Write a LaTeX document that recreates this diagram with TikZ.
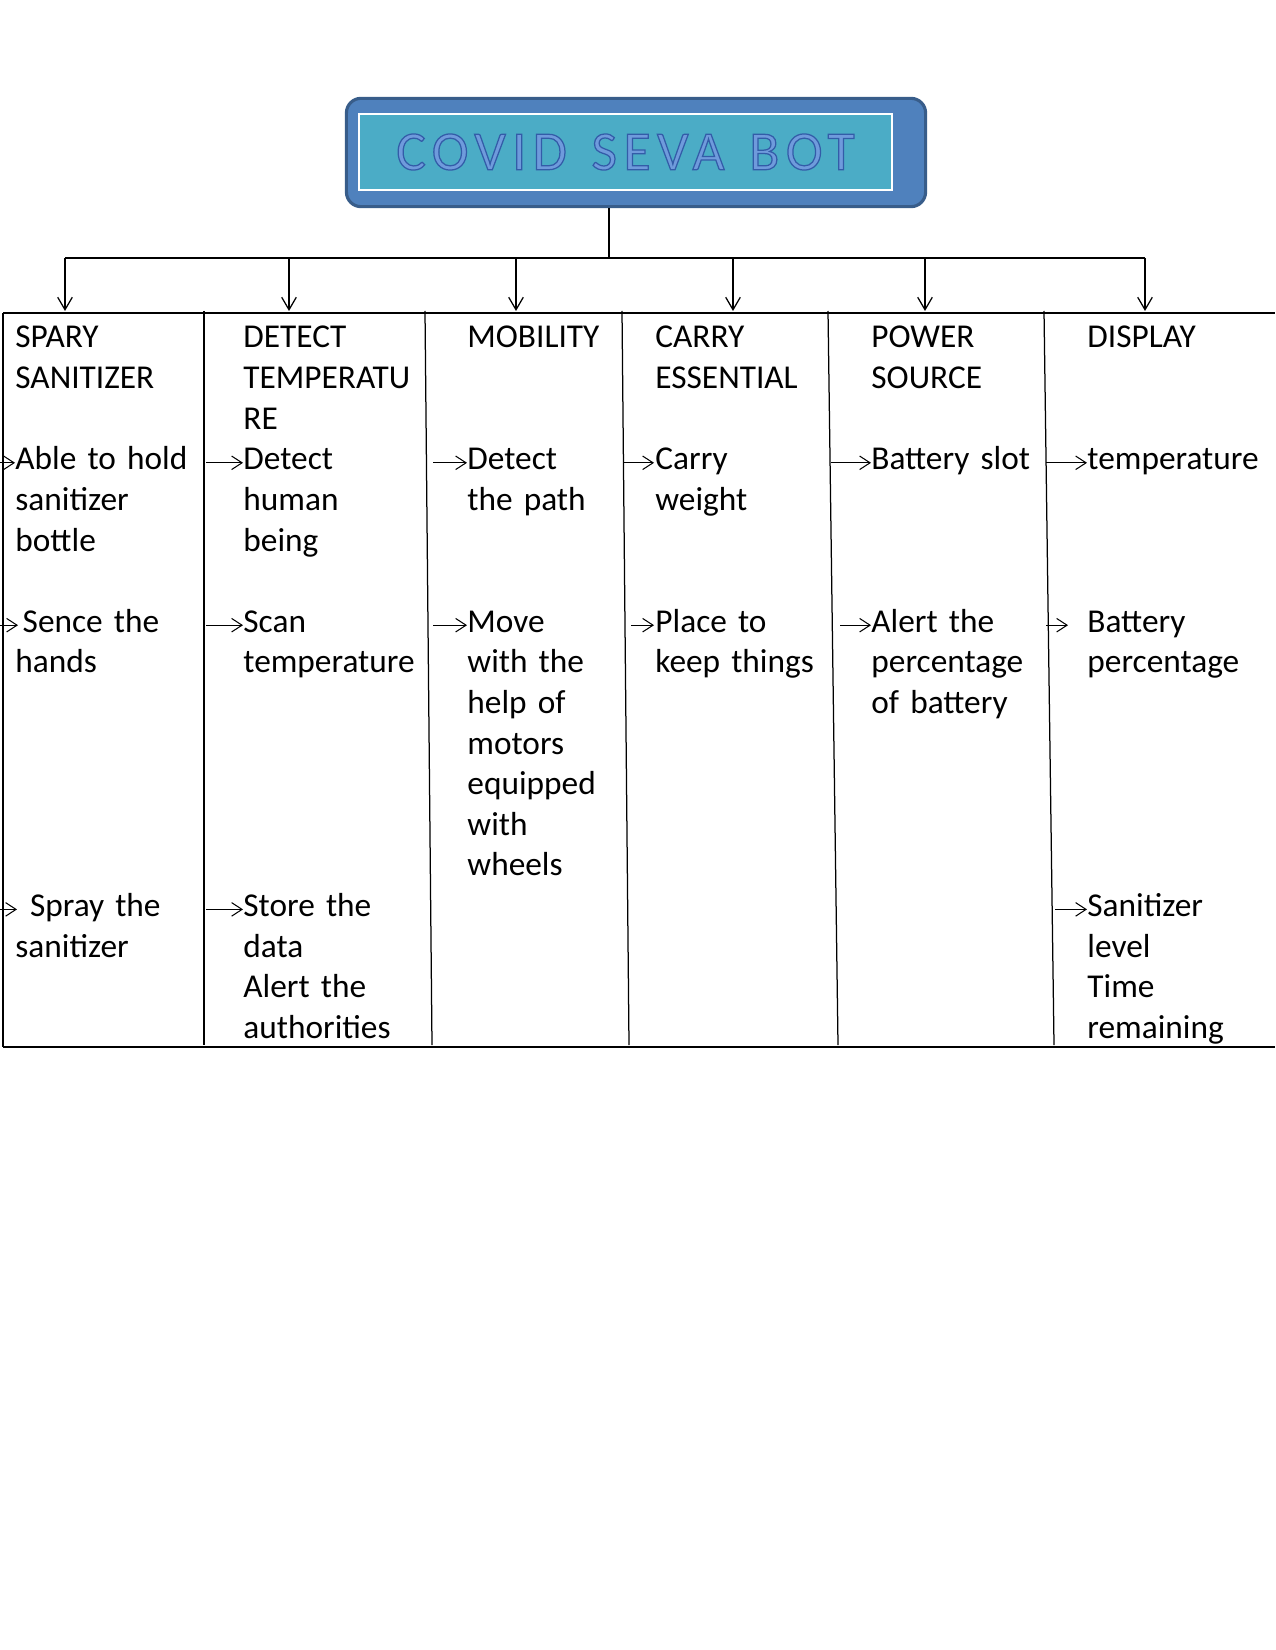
\documentclass[tikz,border=0pt]{standalone}
\usepackage{fontspec}
\setmainfont{Carlito}
\newfontfamily\titlefont[LetterSpace=12, WordSpace=1.3]{Carlito}
\usetikzlibrary{arrows.meta, calc, positioning}
\definecolor{framefill}{HTML}{4F81BD}
\definecolor{framedraw}{HTML}{385D8A}
\definecolor{titlefill}{HTML}{4BACC6}
\definecolor{letterblue}{HTML}{6F9BDC}
\tikzset{
  titleframe/.style={rectangle, rounded corners=7pt, draw=framedraw, line width=1.5pt, fill=framefill, minimum width=278pt, minimum height=52pt},
  titlebox/.style={rectangle, draw=white, line width=1pt, fill=titlefill, minimum width=256pt, minimum height=36.5pt, inner sep=0pt},
  head/.style={anchor=base west, inner sep=0pt, text width=4cm, align=left},
  grid/.style={line width=0.6pt},
  feed/.style={-{Straight Barb[length=6pt,width=7pt]}, line width=0.6pt},
  itemarrow/.style={-{Straight Barb[length=5pt,width=6.5pt]}, line width=0.5pt}
}

\begin{document}
\begin{tikzpicture}[
  x=0.48pt, y=-0.48pt,
  every node/.style={font=\fontsize{16}{19.5}\selectfont}
]
\useasboundingbox (0,0) rectangle (1275,1650);

% Title
\node[titleframe] (frame) at (636,152.5) {};
\node[titlebox, text=letterblue] (title) at (625.5,152)
  {\fontsize{26.5}{30}\titlefont\special{pdf:literal direct 2 Tr 0.6 w 0.2 0.36 0.66 RG}COVID SEVA BOT\special{pdf:literal direct 0 Tr}};

% Feeds
\coordinate (bus) at (609,258);
\coordinate (t1) at (65,311);
\coordinate (t2) at (289,311);
\coordinate (t3) at (516,311);
\coordinate (t4) at (733,311);
\coordinate (t5) at (925,311);
\coordinate (t6) at (1145,311);
\draw[grid] (bus |- frame.south) -- (bus);
\draw[grid] (t1 |- bus) -- (t6 |- bus);
\draw[feed] (t1 |- bus) -- (t1);
\draw[feed] (t2 |- bus) -- (t2);
\draw[feed] (t3 |- bus) -- (t3);
\draw[feed] (t4 |- bus) -- (t4);
\draw[feed] (t5 |- bus) -- (t5);
\draw[feed] (t6 |- bus) -- (t6);

% Table
\draw[grid] (3,313) -- (1275,313);
\draw[grid] (3,1047) -- (1275,1047);
\draw[grid] (3,313) -- (3,1047);
\draw[grid] (204,311) -- (204,1045);
\draw[grid] (425,311) -- (432,1045);
\draw[grid] (622,311) -- (629,1045);
\draw[grid] (828,311) -- (838,1045);
\draw[grid] (1044,311) -- (1054,1045);

% Spray sanitizer
\node[head] (spray) at (15,348) {SPARY\\SANITIZER};
\node[head] (spray1) at (15,469.8) {Able to hold\\sanitizer\\bottle};
\node[head] (spray2) at (15,632.2) {\hspace*{3.5pt}Sence the\\hands};
\node[head] (spray3) at (15,916.4) {\hspace*{7pt}Spray the\\sanitizer};
\draw[itemarrow] ($(spray1.base west)+(-15,-7)$) -- ($(spray1.base west)+(0,-7)$);
\draw[itemarrow] ($(spray2.base west)+(-15,-7)$) -- ($(spray2.base west)+(3,-7)$);
\draw[itemarrow] ($(spray3.base west)+(-15,-7)$) -- ($(spray3.base west)+(2,-7)$);

% Detect temperature
\node[head] (detect) at (243,348) {DETECT\\TEMPERATU\\RE};
\node[head] (detect1) at (243,469.8) {Detect\\human\\being};
\node[head] (detect2) at (243,632.2) {Scan\\temperature};
\node[head] (detect3) at (243,916.4) {Store the\\data\\Alert the\\authorities};
\draw[itemarrow] ($(detect1.base west)+(-37,-7)$) -- ($(detect1.base west)+(0,-7)$);
\draw[itemarrow] ($(detect2.base west)+(-37,-7)$) -- ($(detect2.base west)+(0,-7)$);
\draw[itemarrow] ($(detect3.base west)+(-37,-7)$) -- ($(detect3.base west)+(0,-7)$);

% Mobility
\node[head] (mobility) at (467,348) {MOBILITY};
\node[head] (mobility1) at (467,469.8) {Detect\\the path};
\node[head] (mobility2) at (467,632.2) {Move\\with the\\help of\\motors\\equipped\\with\\wheels};
\draw[itemarrow] ($(mobility1.base west)+(-34,-7)$) -- ($(mobility1.base west)+(0,-7)$);
\draw[itemarrow] ($(mobility2.base west)+(-34,-7)$) -- ($(mobility2.base west)+(0,-7)$);

% Carry essential
\node[head] (carry) at (655,348) {CARRY\\ESSENTIAL};
\node[head] (carry1) at (655,469.8) {Carry\\weight};
\node[head] (carry2) at (655,632.2) {Place to\\keep things};
\draw[itemarrow] ($(carry1.base west)+(-31,-7)$) -- ($(carry1.base west)+(-1,-7)$);
\draw[itemarrow] ($(carry2.base west)+(-24,-7)$) -- ($(carry2.base west)+(-1,-7)$);

% Power source
\node[head] (power) at (871,348) {POWER\\SOURCE};
\node[head] (power1) at (871,469.8) {Battery slot};
\node[head] (power2) at (871,632.2) {Alert the\\percentage\\of battery};
\draw[itemarrow] ($(power1.base west)+(-40,-7)$) -- ($(power1.base west)+(0,-7)$);
\draw[itemarrow] ($(power2.base west)+(-31,-7)$) -- ($(power2.base west)+(0,-7)$);

% Display
\node[head] (display) at (1087,348) {DISPLAY};
\node[head] (display1) at (1087,469.8) {temperature};
\node[head] (display2) at (1087,632.2) {Battery\\percentage};
\node[head] (display3) at (1087,916.4) {Sanitizer\\level\\Time\\remaining};
\draw[itemarrow] ($(display1.base west)+(-41,-7)$) -- ($(display1.base west)+(0,-7)$);
\draw[itemarrow] ($(display2.base west)+(-41,-7)$) -- ($(display2.base west)+(-19,-7)$);
\draw[itemarrow] ($(display3.base west)+(-32,-7)$) -- ($(display3.base west)+(0,-7)$);

\end{tikzpicture}
\end{document}
